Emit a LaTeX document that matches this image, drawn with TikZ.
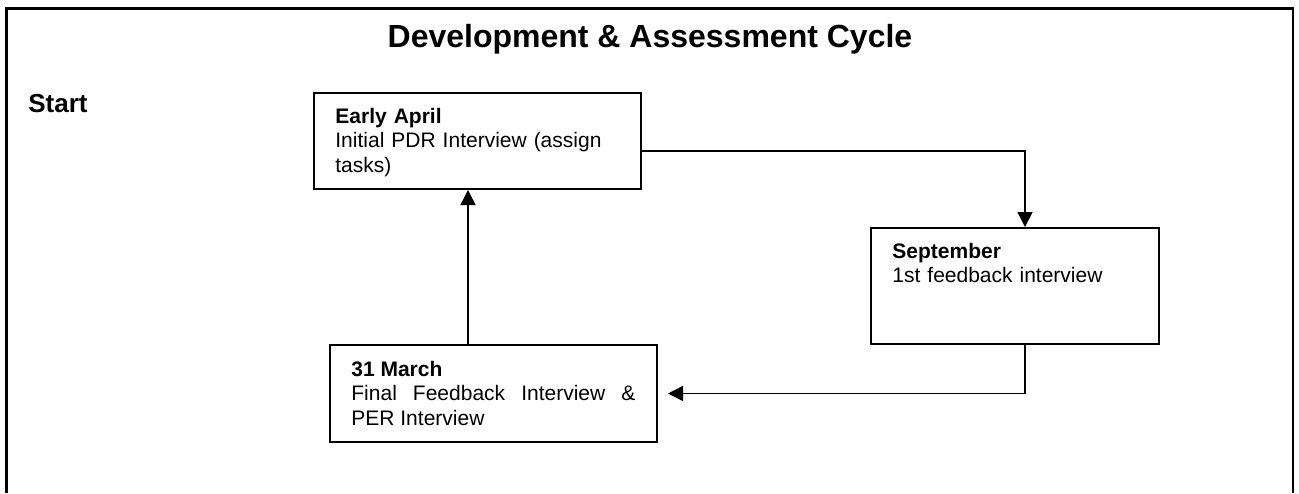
\documentclass[tikz,border=0pt]{standalone}
\usepackage{fontspec}
\setmainfont{Liberation Sans}
\usetikzlibrary{arrows.meta,calc}
\hyphenpenalty=10000
\exhyphenpenalty=10000
\tikzset{
  box/.style={draw, line width=1pt, inner sep=0pt},
  boxtext/.style={anchor=base west, inner sep=0pt, font=\fontsize{10.5}{12.3}\selectfont},
  conn/.style={line width=0.75pt, -{Triangle[length=7.5pt,width=7.5pt]}},
  frame/.style={line width=1.2pt, line join=miter}
}
\begin{document}
\begin{tikzpicture}[x=0.5pt,y=-0.5pt]
\useasboundingbox (0,0) rectangle (1299,493);
\draw[frame] (6.5,493) -- (6.5,8.5) -- (1293,8.5) -- (1293,493);
\node[anchor=base, inner sep=0pt, font=\fontsize{16}{19}\selectfont\bfseries] (title) at (650,47) {Development \& Assessment Cycle};
\node[anchor=base west, inner sep=0pt, font=\fontsize{13}{15}\selectfont\bfseries] (start) at (28,112) {Start};
% boxes
\node[box, minimum width=163.5pt, minimum height=48pt] (ea) at (477.5,141) {};
\node[box, minimum width=144pt, minimum height=58pt] (sep) at (1015,286) {};
\node[box, minimum width=163.5pt, minimum height=48.5pt] (mar) at (493.5,393.5) {};
% texts
\node[boxtext, text width=142pt, align=left] (eat) at (335,123) {\textbf{Early April}\\Initial PDR Interview (assign tasks)};
\node[boxtext, text width=130pt, align=left] (sept) at (892,258) {\textbf{September}\\1st feedback interview};
\node[boxtext, text width=142pt, align=justify] (mart) at (351,376) {\textbf{31 March}\\Final Feedback Interview \& PER Interview};
% connectors
\draw[conn] ($(ea.east)+(0,10)$) -| ($(sep.north)+(10,0)$);
\draw[conn] ($(sep.south)+(10,0)$) |- ($(mar.east)+(10,0)$);
\draw[conn] ($(mar.north)+(-25.5,0)$) -- ($(ea.south)+(-9.5,0)$);
\end{tikzpicture}
\end{document}
